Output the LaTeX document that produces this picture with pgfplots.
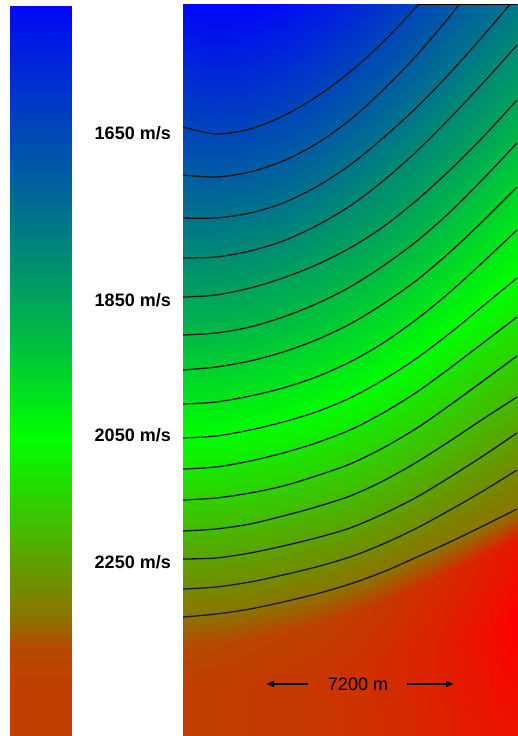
\documentclass[border=0pt]{standalone}
\usepackage{pgfplots}
\pgfplotsset{compat=1.18}
\usepackage{pgfplotstable}
\usepackage{fontspec}
\setmainfont{Liberation Sans}
\usetikzlibrary{arrows.meta}

\pgfplotstableread{
x y v
183 -13 1500
216 -6 1500
250 -11 1500
283 -24 1500
316 -43 1500
350 -68 1500
383 -98 1500
417 -134 1500
450 -174 1500
483 -216 1500
517 -260 1500
183 35 1550
216 42 1550
250 37 1550
283 24 1550
316 5 1550
350 -20 1550
383 -50 1550
417 -86 1550
450 -126 1550
483 -168 1550
517 -212 1550
183 81 1600
216 88 1600
250 83 1600
283 70 1600
316 51 1600
350 26 1600
383 -4 1600
417 -40 1600
450 -80 1600
483 -122 1600
517 -166 1600
183 127 1650
216 134 1650
250 129 1650
283 116 1650
316 97 1650
350 72 1650
383 42 1650
417 6 1650
450 -34 1650
483 -76 1650
517 -120 1650
183 175 1700
216 177 1700
250 172 1700
283 161 1700
316 144 1700
350 120 1700
383 90 1700
417 55 1700
450 16 1700
483 -26 1700
517 -70 1700
183 218 1750
216 218 1750
250 213 1750
283 203 1750
316 187 1750
350 165 1750
383 138 1750
417 107 1750
450 73 1750
483 36 1750
517 -4 1750
183 258 1800
216 257 1800
250 251 1800
283 241 1800
316 226 1800
350 206 1800
383 181 1800
417 151 1800
450 118 1800
483 83 1800
517 45 1800
183 297 1850
216 295 1850
250 288 1850
283 278 1850
316 265 1850
350 248 1850
383 227 1850
417 200 1850
450 170 1850
483 137 1850
517 100 1850
183 335 1900
216 333 1900
250 327 1900
283 317 1900
316 304 1900
350 287 1900
383 266 1900
417 241 1900
450 212 1900
483 179 1900
517 143 1900
183 370 1950
216 367 1950
250 361 1950
283 352 1950
316 340 1950
350 324 1950
383 304 1950
417 280 1950
450 252 1950
483 221 1950
517 187 1950
183 404 2000
216 402 2000
250 396 2000
283 388 2000
316 377 2000
350 362 2000
383 343 2000
417 319 2000
450 292 2000
483 262 2000
517 230 2000
183 438 2050
216 436 2050
250 430 2050
283 422 2050
316 412 2050
350 398 2050
383 380 2050
417 358 2050
450 333 2050
483 306 2050
517 278 2050
183 469 2100
216 467 2100
250 461 2100
283 453 2100
316 443 2100
350 430 2100
383 413 2100
417 392 2100
450 368 2100
483 343 2100
517 317 2100
183 500 2150
216 498 2150
250 493 2150
283 486 2150
316 476 2150
350 464 2150
383 448 2150
417 428 2150
450 405 2150
483 381 2150
517 356 2150
183 531 2200
216 529 2200
250 524 2200
283 516 2200
316 507 2200
350 496 2200
383 481 2200
417 462 2200
450 441 2200
483 419 2200
517 397 2200
183 559 2250
216 558 2250
250 553 2250
283 546 2250
316 538 2250
350 528 2250
383 514 2250
417 497 2250
450 477 2250
483 456 2250
517 433 2250
183 589 2300
216 587 2300
250 582 2300
283 575 2300
316 567 2300
350 557 2300
383 544 2300
417 528 2300
450 510 2300
483 491 2300
517 470 2300
183 617 2350
216 614 2350
250 609 2350
283 602 2350
316 594 2350
350 584 2350
383 572 2350
417 557 2350
450 542 2350
483 526 2350
517 509 2350
183 647 2440
216 644 2445
250 639 2450
283 632 2455
316 624 2460
350 614 2470
383 602 2480
417 587 2495
450 572 2510
483 556 2530
517 539 2550
183 690 2465
216 688 2468
250 685 2472
283 680 2476
316 675 2480
350 670 2490
383 660 2505
417 650 2520
450 640 2540
483 630 2565
517 620 2600
183 740 2465
216 740 2468
250 740 2472
283 740 2476
316 740 2480
350 740 2490
383 740 2500
417 740 2515
450 740 2530
483 740 2545
517 740 2555
}\fieldtable

\pgfplotstableread{
x y v
10 6 1520
71 6 1520
10 35 1550
71 35 1550
10 81 1600
71 81 1600
10 127 1650
71 127 1650
10 175 1700
71 175 1700
10 218 1750
71 218 1750
10 258 1800
71 258 1800
10 297 1850
71 297 1850
10 335 1900
71 335 1900
10 370 1950
71 370 1950
10 404 2000
71 404 2000
10 438 2050
71 438 2050
10 469 2100
71 469 2100
10 500 2150
71 500 2150
10 531 2200
71 531 2200
10 559 2250
71 559 2250
10 589 2300
71 589 2300
10 617 2350
71 617 2350
10 647 2440
71 647 2440
10 690 2465
71 690 2465
10 736 2465
71 736 2465
}\bartable

\pgfplotsset{
  colormap={bgr}{rgb255=(0,0,255) rgb255=(0,255,0) rgb255=(255,0,0)},
  contourline/.style={black!90, line width=1.3pt, smooth},
}

\begin{document}
\begin{tikzpicture}
\useasboundingbox (0pt,0pt) rectangle (517pt,-736pt);
\fill[white] (0pt,0pt) rectangle (517pt,-736pt);

% colour bar
\begin{axis}[
  at={(10pt,-6pt)}, anchor=north west,
  scale only axis, width=61pt, height=730pt,
  xmin=10, xmax=71, ymin=6, ymax=736, y dir=reverse,
  hide axis, colormap name=bgr,
  point meta min=1500, point meta max=2600,
]
\addplot[surf, shader=interp, mesh/cols=2, mesh/ordering=x varies, point meta=explicit]
  table[x=x, y=y, meta=v] \bartable;
\end{axis}

% main field
\begin{axis}[
  at={(183pt,-4pt)}, anchor=north west,
  scale only axis, width=334pt, height=732pt,
  xmin=183, xmax=517, ymin=4, ymax=736, y dir=reverse,
  hide axis, colormap name=bgr,
  point meta min=1500, point meta max=2600,
]
\addplot[surf, shader=interp, mesh/cols=11, mesh/ordering=x varies, point meta=explicit]
  table[x=x, y=y, meta=v] \fieldtable;
\pgfplotsinvokeforeach{1650,1700,1750,1800,1850,1900,1950,2000,2050,2100,2150,2200,2250,2300,2350}{
  \addplot[contourline] table[x=x, y=y, restrict expr to domain={\thisrow{v}-#1}{-1:1}] \fieldtable;
}
\end{axis}

\draw[black, line width=1pt] (418pt,-4.5pt) -- (517pt,-4.5pt);

\foreach \lab/\yy in {1650/133, 1850/300, 2050/435, 2250/562}{
  \node[anchor=east, inner sep=0pt, font=\fontsize{18}{20}\selectfont\bfseries] at (171pt,-\yy pt) {\lab\ m/s};
}

\node[inner sep=0pt, font=\fontsize{18}{20}\selectfont] at (358pt,-684pt) {7200 m};
\draw[black, line width=1.1pt, -{Latex[length=8pt,width=7pt]}] (308pt,-684pt) -- (266pt,-684pt);
\draw[black, line width=1.1pt, -{Latex[length=8pt,width=7pt]}] (407pt,-684pt) -- (454pt,-684pt);
\end{tikzpicture}
\end{document}
